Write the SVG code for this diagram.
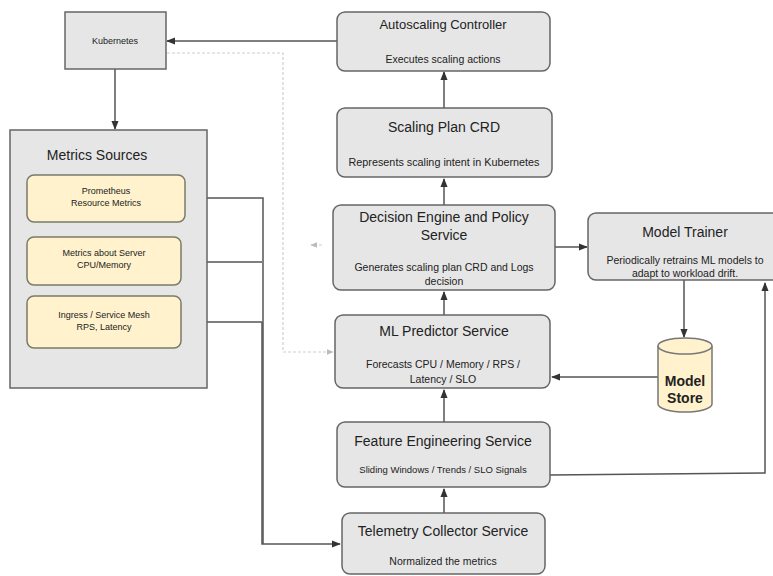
<svg xmlns="http://www.w3.org/2000/svg" width="773" height="576" viewBox="0 0 773 576">
<style>
text{font-family:"Liberation Sans",Arial,sans-serif;fill:#222;text-anchor:middle}
.box{fill:#e6e6e6;stroke:#666;stroke-width:1.5}
.yel{fill:#fff2cc;stroke:#7a7a6a;stroke-width:1.5}
.t{font-size:14px}
.s{font-size:10.5px}
.y{font-size:9px}
.c{fill:none;stroke:#555;stroke-width:1.5}
.f{fill:none;stroke:#cfcfcf;stroke-width:1.2;stroke-dasharray:3 2}
</style>
<defs>
<marker id="a" viewBox="0 0 10 10" refX="9" refY="5" markerWidth="6" markerHeight="6" orient="auto"><path d="M0,1 L10,5 L0,9 z" fill="#333"/></marker>
<marker id="af" viewBox="0 0 10 10" refX="9" refY="5" markerWidth="6" markerHeight="6" orient="auto"><path d="M0,1 L10,5 L0,9 z" fill="#bbb"/></marker>
</defs>
<rect width="773" height="576" fill="#fff"/>
<g id="connectors">
<path class="c" d="M337,41 L167,41" marker-end="url(#a)"/>
<path class="f" d="M167,53 L283,53 L283,352 L333,352" marker-end="url(#af)"/>
<path class="f" d="M322,245 L311,245" marker-end="url(#af)"/>
<path class="c" d="M115,69 L115,129" marker-end="url(#a)"/>
<path class="c" d="M185,198 L263,198 L263,544"/>
<path class="c" d="M181,262 L262,262"/>
<path class="c" d="M181,322 L262,322"/>
<path class="c" d="M262,322 L262,544 L340,544" marker-end="url(#a)"/>
<path class="c" d="M444,108 L444,72" marker-end="url(#a)"/>
<path class="c" d="M444,205 L444,179" marker-end="url(#a)"/>
<path class="c" d="M444,315 L444,292" marker-end="url(#a)"/>
<path class="c" d="M444,422 L444,390" marker-end="url(#a)"/>
<path class="c" d="M444,513 L444,489" marker-end="url(#a)"/>
<path class="c" d="M555,247 L587,247" marker-end="url(#a)"/>
<path class="c" d="M684,280 L684,337" marker-end="url(#a)"/>
<path class="c" d="M658,377 L552,377" marker-end="url(#a)"/>
<path class="c" d="M550,475 L765,473 L765,283" marker-end="url(#a)"/>
</g>
<g id="kubernetes">
<rect class="box" x="65" y="12" width="101" height="57"/>
<text class="y" x="115" y="44">Kubernetes</text>
</g>
<g id="metrics-sources">
<rect class="box" x="10" y="130" width="197" height="258"/>
<text class="t" x="97" y="160">Metrics Sources</text>
</g>
<g id="prometheus">
<rect class="yel" x="27" y="175" width="158" height="47" rx="7"/>
<text class="y" x="106" y="194">Prometheus</text>
<text class="y" x="106" y="206">Resource Metrics</text>
</g>
<g id="server-metrics">
<rect class="yel" x="27" y="237" width="154" height="48" rx="7"/>
<text class="y" x="104" y="256">Metrics about Server</text>
<text class="y" x="104" y="268">CPU/Memory</text>
</g>
<g id="ingress">
<rect class="yel" x="27" y="296" width="154" height="52" rx="7"/>
<text class="y" x="104" y="318">Ingress / Service Mesh</text>
<text class="y" x="104" y="330">RPS, Latency</text>
</g>
<g id="autoscaling-controller">
<rect class="box" x="337" y="12" width="213" height="59" rx="8"/>
<text x="443" y="29" font-size="13">Autoscaling Controller</text>
<text class="s" x="443" y="63">Executes scaling actions</text>
</g>
<g id="scaling-plan-crd">
<rect class="box" x="337" y="108" width="215" height="69" rx="8"/>
<text class="t" x="444" y="132">Scaling Plan CRD</text>
<text x="444" y="166" font-size="10.8">Represents scaling intent in Kubernetes</text>
</g>
<g id="decision-engine">
<rect class="box" x="333" y="205" width="222" height="85" rx="8"/>
<text class="t" x="444" y="222">Decision Engine and Policy</text>
<text class="t" x="444" y="240">Service</text>
<text class="s" x="444" y="271">Generates scaling plan CRD and Logs</text>
<text class="s" x="444" y="285">decision</text>
</g>
<g id="ml-predictor">
<rect class="box" x="335" y="315" width="215" height="73" rx="8"/>
<text class="t" x="444" y="336">ML Predictor Service</text>
<text class="s" x="443" y="368">Forecasts  CPU / Memory / RPS /</text>
<text class="s" x="443" y="383">Latency / SLO</text>
</g>
<g id="feature-engineering">
<rect class="box" x="337" y="422" width="213" height="65" rx="8"/>
<text class="t" x="443" y="446">Feature Engineering Service</text>
<text x="443" y="473" font-size="9.5">Sliding Windows / Trends / SLO Signals</text>
</g>
<g id="telemetry-collector">
<rect class="box" x="342" y="513" width="203" height="61" rx="8"/>
<text class="t" x="443" y="536">Telemetry Collector Service</text>
<text class="s" x="443" y="565">Normalized the metrics</text>
</g>
<g id="model-trainer">
<rect class="box" x="588" y="213" width="195" height="67" rx="8"/>
<text class="t" x="685" y="237">Model Trainer</text>
<text class="s" x="685" y="264">Periodically retrains ML models to</text>
<text class="s" x="685" y="277">adapt to workload drift.</text>
</g>
<g id="model-store">
<path d="M658,346 L658,404 A27,8 0 0 0 712,404 L712,346" fill="#fff2cc" stroke="#777" stroke-width="1.5"/>
<ellipse cx="685" cy="346" rx="27" ry="8" fill="#fff2cc" stroke="#777" stroke-width="1.5"/>
<text x="685" y="386" font-size="14" font-weight="bold" fill="#333">Model</text>
<text x="685" y="403" font-size="14" font-weight="bold" fill="#333">Store</text>
</g>
</svg>
